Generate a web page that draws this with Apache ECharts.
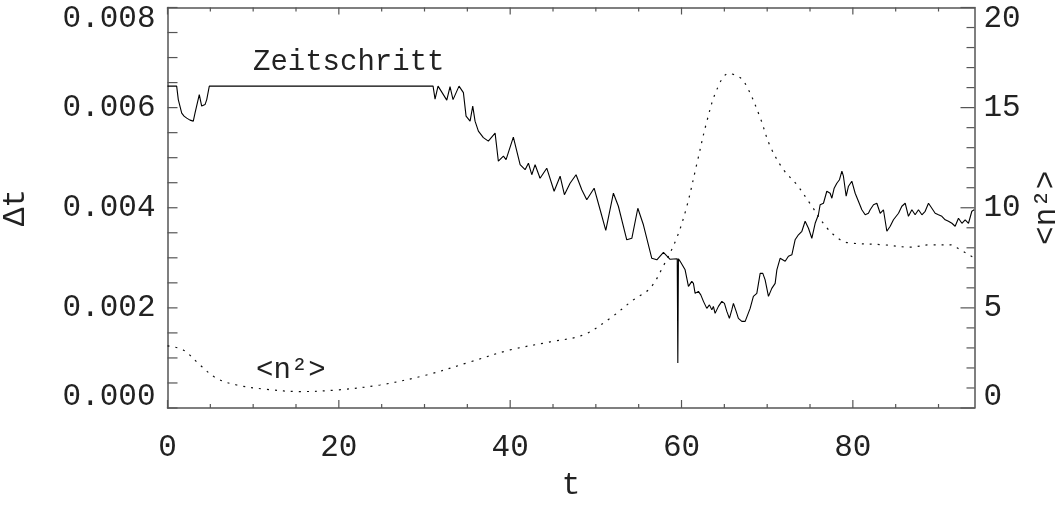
<!DOCTYPE html>
<html>
<head>
<meta charset="utf-8">
<style>
  html, body { margin: 0; padding: 0; background: #fff; }
  #chart { width: 1064px; height: 505px; }
</style>
<script src="https://cdn.jsdelivr.net/npm/echarts@6/dist/echarts.min.js"></script>
</head>
<body>
<div id="chart"></div>
<script>
// Time step (Zeitschritt) of the run: simulation time t and step size Δt
const stepT = [
  0.00, 1.07, 1.26, 1.66, 1.93, 2.24, 2.63, 3.01, 3.21, 3.71,
  3.99, 4.38, 4.58, 4.88, 31.00, 31.23, 31.58, 32.60, 32.98, 33.33,
  34.03, 34.54, 34.85, 35.32, 35.63, 35.90, 36.29, 36.87, 37.45, 38.24,
  38.62, 39.21, 39.52, 40.37, 41.16, 41.74, 42.13, 42.52, 42.91, 43.49,
  44.27, 45.13, 45.83, 46.33, 46.99, 47.69, 48.36, 48.94, 49.80, 50.50,
  51.16, 52.05, 52.63, 53.61, 54.20, 54.90, 55.55, 56.53, 57.12, 57.89,
  58.67, 59.50, 59.57, 59.64, 59.84, 60.42, 60.81, 61.20, 61.39, 61.59,
  61.97, 62.25, 62.56, 62.95, 63.26, 63.54, 63.72, 63.92, 64.31, 64.71,
  65.01, 65.29, 65.59, 65.87, 66.06, 66.38, 66.64, 67.04, 67.43, 67.62,
  68.01, 68.39, 68.79, 69.18, 69.49, 69.76, 70.15, 70.54, 70.93, 71.13,
  71.51, 72.10, 72.48, 72.88, 73.26, 73.65, 74.05, 74.43, 74.82, 75.21,
  75.60, 75.98, 76.18, 76.57, 76.96, 77.35, 77.55, 77.82, 78.13, 78.44,
  78.72, 78.90, 79.22, 79.49, 79.88, 80.27, 80.65, 81.05, 81.44, 81.82,
  82.02, 82.41, 82.80, 83.19, 83.57, 83.97, 84.36, 84.74, 85.33, 85.72,
  86.11, 86.49, 86.89, 87.27, 87.66, 88.06, 88.44, 88.83, 89.22, 89.61,
  89.99, 90.39, 90.78, 91.16, 91.56, 91.94, 92.33, 92.73, 93.11, 93.50,
  93.89, 94.16
];
const stepDt = [
  0.00643, 0.00643, 0.00616, 0.00589, 0.00583, 0.00579, 0.00575, 0.00573, 0.00589, 0.00626,
  0.00603, 0.00606, 0.00616, 0.00643, 0.00643, 0.00617, 0.00643, 0.00615, 0.00642, 0.00616,
  0.00643, 0.00630, 0.00583, 0.00573, 0.00603, 0.00573, 0.00553, 0.00540, 0.00533, 0.00549,
  0.00493, 0.00503, 0.00496, 0.00541, 0.00486, 0.00476, 0.00489, 0.00466, 0.00486, 0.00459,
  0.00479, 0.00433, 0.00463, 0.00426, 0.00449, 0.00466, 0.00436, 0.00416, 0.00439, 0.00396,
  0.00355, 0.00429, 0.00403, 0.00336, 0.00339, 0.00399, 0.00366, 0.00299, 0.00296, 0.00311,
  0.00297, 0.00298, 0.00090, 0.00298, 0.00293, 0.00276, 0.00243, 0.00253, 0.00249, 0.00229,
  0.00233, 0.00226, 0.00213, 0.00199, 0.00206, 0.00196, 0.00203, 0.00189, 0.00203, 0.00213,
  0.00209, 0.00193, 0.00179, 0.00196, 0.00209, 0.00193, 0.00179, 0.00173, 0.00173, 0.00176,
  0.00199, 0.00223, 0.00229, 0.00269, 0.00269, 0.00256, 0.00223, 0.00239, 0.00249, 0.00276,
  0.00299, 0.00293, 0.00303, 0.00306, 0.00336, 0.00346, 0.00353, 0.00373, 0.00359, 0.00339,
  0.00369, 0.00386, 0.00406, 0.00409, 0.00433, 0.00429, 0.00419, 0.00439, 0.00449, 0.00456,
  0.00473, 0.00463, 0.00423, 0.00443, 0.00453, 0.00429, 0.00413, 0.00396, 0.00386, 0.00389,
  0.00396, 0.00406, 0.00409, 0.00389, 0.00396, 0.00353, 0.00363, 0.00376, 0.00389, 0.00403,
  0.00409, 0.00383, 0.00396, 0.00386, 0.00396, 0.00386, 0.00393, 0.00409, 0.00399, 0.00389,
  0.00386, 0.00383, 0.00376, 0.00373, 0.00369, 0.00363, 0.00379, 0.00369, 0.00376, 0.00369,
  0.00393, 0.00396
];

// Mean square <n²> over the same run
const meanT = [
  0.00, 1.84, 3.79, 5.74, 8.08, 11.58, 15.47, 19.75, 24.81, 30.26,
  35.32, 39.99, 44.66, 48.55, 51.66, 54.38, 56.33, 57.89, 59.45, 60.62,
  61.79, 62.95, 64.12, 65.48, 66.84, 67.81, 69.18, 70.35, 71.90, 73.46,
  75.02, 76.96, 78.52, 79.49, 83.57, 86.69, 89.02, 91.36, 92.53, 93.89,
  94.20
];
const meanN2 = [
  3.10, 2.90, 2.15, 1.48, 1.15, 0.93, 0.82, 0.90, 1.15, 1.65,
  2.30, 2.90, 3.30, 3.65, 4.48, 5.40, 5.98, 7.10, 8.50, 10.07,
  12.20, 14.30, 15.90, 16.70, 16.50, 15.90, 14.50, 13.07, 11.90, 11.15,
  10.20, 9.00, 8.40, 8.25, 8.15, 8.03, 8.15, 8.15, 7.90, 7.57,
  7.50
];

// Tick positions on the frame
const tMajorTicks = [0, 20, 40, 60, 80];
const tMinorTicks = [5, 10, 15, 25, 30, 35, 45, 50, 55, 65, 70, 75, 85, 90];
const dtMajorTicks = [0, 0.002, 0.004, 0.006, 0.008];
const dtMinorTicks = [0.0005, 0.001, 0.0015, 0.0025, 0.003, 0.0035, 0.0045, 0.005, 0.0055, 0.0065, 0.007, 0.0075];
const n2MajorTicks = [0, 5, 10, 15, 20];
const n2MinorTicks = [1, 2, 3, 4, 6, 7, 8, 9, 11, 12, 13, 14, 16, 17, 18, 19];

const tMax = 94.2;
const dtMax = 0.008;
const n2Max = 20;

const font = 'Liberation Mono';
const ink = '#222';
const axisGray = '#555';

const chart = echarts.init(document.getElementById('chart'), null, { renderer: 'canvas' });

const lineOn = { show: true, onZero: false, lineStyle: { color: axisGray, width: 1.5 } };

// Inward-pointing frame ticks drawn through the axis scales
function tickSeries(values, yAxisIndex, side, len) {
  const isX = side === 'bottom' || side === 'top';
  return {
    type: 'custom', xAxisIndex: 0, yAxisIndex: yAxisIndex, silent: true, clip: false, z: 4,
    data: values.map(v => [v]),
    encode: isX ? { x: 0 } : { y: 0 },
    renderItem: function (params, api) {
      const cs = params.coordSys;
      const v = api.value(0);
      let shape;
      if (side === 'bottom') {
        const x = api.coord([v, 0])[0];
        shape = { x1: x, y1: cs.y + cs.height, x2: x, y2: cs.y + cs.height - len };
      } else if (side === 'top') {
        const x = api.coord([v, 0])[0];
        shape = { x1: x, y1: cs.y, x2: x, y2: cs.y + len };
      } else if (side === 'left') {
        const y = api.coord([0, v])[1];
        shape = { x1: cs.x, y1: y, x2: cs.x + len, y2: y };
      } else {
        const y = api.coord([0, v])[1];
        shape = { x1: cs.x + cs.width, y1: y, x2: cs.x + cs.width - len, y2: y };
      }
      return { type: 'line', shape: shape, style: { stroke: axisGray, lineWidth: 1.2 } };
    }
  };
}

const option = {
  animation: false,
  backgroundColor: '#fff',
  grid: { left: 167.5, right: 89.5, top: 7.5, bottom: 97, outerBoundsMode: 'none', containLabel: false },
  xAxis: [
    {
      type: 'value', position: 'bottom', min: 0, max: tMax, interval: 20,
      name: 't', nameLocation: 'middle', nameGap: 62,
      nameTextStyle: { fontFamily: font, fontSize: 31, color: ink },
      axisLine: lineOn, axisTick: { show: false }, splitLine: { show: false },
      axisLabel: { margin: 24, fontFamily: font, fontSize: 31, color: ink, showMaxLabel: false }
    },
    {
      type: 'value', position: 'top', min: 0, max: tMax, interval: 20,
      axisLine: lineOn, axisTick: { show: false }, axisLabel: { show: false }, splitLine: { show: false }
    }
  ],
  yAxis: [
    {
      type: 'value', position: 'left', min: 0, max: dtMax, interval: 0.002,
      name: 'Δt', nameLocation: 'middle', nameRotate: 90, nameGap: 136,
      nameTextStyle: { fontFamily: font, fontSize: 31, color: ink },
      axisLine: lineOn, axisTick: { show: false }, splitLine: { show: false },
      axisLabel: {
        margin: 12, fontFamily: font, fontSize: 31, lineHeight: 22, color: ink,
        formatter: v => v.toFixed(3),
        verticalAlignMinLabel: 'bottom', verticalAlignMaxLabel: 'top'
      }
    },
    {
      type: 'value', position: 'right', min: 0, max: n2Max, interval: 5,
      name: '<n²>', nameLocation: 'middle', nameRotate: 90, nameGap: 52,
      nameTextStyle: { fontFamily: font, fontSize: 31, color: ink },
      axisLine: lineOn, axisTick: { show: false }, splitLine: { show: false },
      axisLabel: {
        margin: 9, fontFamily: font, fontSize: 31, lineHeight: 22, color: ink,
        verticalAlignMinLabel: 'bottom', verticalAlignMaxLabel: 'top'
      }
    }
  ],
  series: [
    {
      name: 'Zeitschritt', type: 'line', xAxisIndex: 0, yAxisIndex: 0,
      data: stepT.map((t, i) => [t, stepDt[i]]),
      showSymbol: false, symbol: 'none',
      lineStyle: { color: '#000', width: 1.1 },
      z: 3
    },
    {
      name: '<n²>', type: 'line', xAxisIndex: 0, yAxisIndex: 1,
      data: meanT.map((t, i) => [t, meanN2[i]]),
      showSymbol: false, symbol: 'none', smooth: 0.35,
      lineStyle: { color: '#111', width: 1.2, type: [2, 6] },
      z: 2
    },
    tickSeries(tMajorTicks, 0, 'bottom', 8),
    tickSeries(tMinorTicks, 0, 'bottom', 4),
    tickSeries(tMajorTicks, 0, 'top', 7),
    tickSeries(tMinorTicks, 0, 'top', 4),
    tickSeries(dtMajorTicks, 0, 'left', 10),
    tickSeries(dtMinorTicks, 0, 'left', 10),
    tickSeries(n2MajorTicks, 1, 'right', 14),
    tickSeries(n2MinorTicks, 1, 'right', 8)
  ],
  graphic: [
    {
      type: 'text', left: 253, top: 48,
      style: { text: 'Zeitschritt', fontFamily: font, fontSize: 29, fill: ink }
    },
    {
      type: 'text', left: 256, top: 356,
      style: { text: '<n²>', fontFamily: font, fontSize: 29, fill: ink }
    }
  ]
};

chart.setOption(option);
</script>
</body>
</html>
